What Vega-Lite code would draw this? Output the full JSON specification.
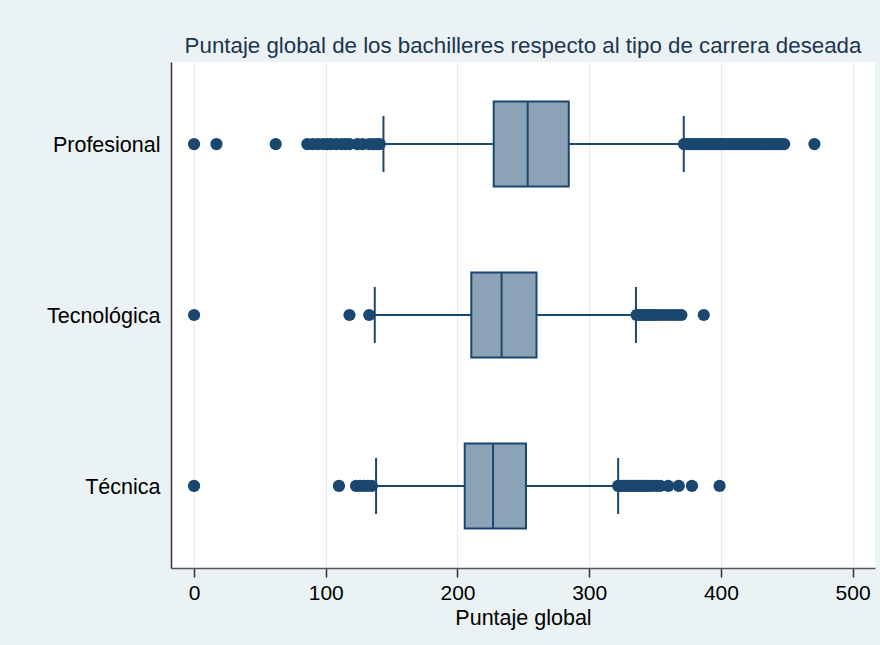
{
  "$schema": "https://vega.github.io/schema/vega-lite/v6.json",
  "width": 704,
  "height": 506,
  "autosize": {"type": "none"},
  "padding": {"left": 171, "top": 62, "right": 5, "bottom": 77},
  "title": {
    "text": "Puntaje global de los bachilleres respecto al tipo de carrera deseada",
    "fontSize": 22.3,
    "fontWeight": "normal",
    "color": "#1c3550",
    "anchor": "middle",
    "baseline": "alphabetic",
    "offset": -13
  },
  "datasets": {
    "boxes": [
      {"carrera": "Profesional", "min": 143.8, "q1": 227.5, "median": 253.3, "q3": 284.5, "max": 371.8},
      {"carrera": "Tecnológica", "min": 137.2, "q1": 210.5, "median": 233.5, "q3": 260, "max": 335.5},
      {"carrera": "Técnica", "min": 138.2, "q1": 205.5, "median": 227, "q3": 252, "max": 322}
    ],
    "outliers": [
      {"carrera": "Profesional", "puntaje": 0},
      {"carrera": "Profesional", "puntaje": 17},
      {"carrera": "Profesional", "puntaje": 62},
      {"carrera": "Profesional", "puntaje": 86},
      {"carrera": "Profesional", "puntaje": 90},
      {"carrera": "Profesional", "puntaje": 94},
      {"carrera": "Profesional", "puntaje": 98},
      {"carrera": "Profesional", "puntaje": 101},
      {"carrera": "Profesional", "puntaje": 104},
      {"carrera": "Profesional", "puntaje": 108},
      {"carrera": "Profesional", "puntaje": 112},
      {"carrera": "Profesional", "puntaje": 115},
      {"carrera": "Profesional", "puntaje": 118},
      {"carrera": "Profesional", "puntaje": 124},
      {"carrera": "Profesional", "puntaje": 128},
      {"carrera": "Profesional", "puntaje": 133},
      {"carrera": "Profesional", "puntaje": 136},
      {"carrera": "Profesional", "puntaje": 139},
      {"carrera": "Profesional", "puntaje": 141},
      {"carrera": "Profesional", "puntaje": 372},
      {"carrera": "Profesional", "puntaje": 374},
      {"carrera": "Profesional", "puntaje": 376},
      {"carrera": "Profesional", "puntaje": 378},
      {"carrera": "Profesional", "puntaje": 380},
      {"carrera": "Profesional", "puntaje": 382},
      {"carrera": "Profesional", "puntaje": 384},
      {"carrera": "Profesional", "puntaje": 386},
      {"carrera": "Profesional", "puntaje": 388},
      {"carrera": "Profesional", "puntaje": 390},
      {"carrera": "Profesional", "puntaje": 392},
      {"carrera": "Profesional", "puntaje": 394},
      {"carrera": "Profesional", "puntaje": 396},
      {"carrera": "Profesional", "puntaje": 398},
      {"carrera": "Profesional", "puntaje": 400},
      {"carrera": "Profesional", "puntaje": 402},
      {"carrera": "Profesional", "puntaje": 404},
      {"carrera": "Profesional", "puntaje": 406},
      {"carrera": "Profesional", "puntaje": 408},
      {"carrera": "Profesional", "puntaje": 410},
      {"carrera": "Profesional", "puntaje": 412},
      {"carrera": "Profesional", "puntaje": 414},
      {"carrera": "Profesional", "puntaje": 416},
      {"carrera": "Profesional", "puntaje": 418},
      {"carrera": "Profesional", "puntaje": 420},
      {"carrera": "Profesional", "puntaje": 422},
      {"carrera": "Profesional", "puntaje": 424},
      {"carrera": "Profesional", "puntaje": 426},
      {"carrera": "Profesional", "puntaje": 428},
      {"carrera": "Profesional", "puntaje": 430},
      {"carrera": "Profesional", "puntaje": 432},
      {"carrera": "Profesional", "puntaje": 434},
      {"carrera": "Profesional", "puntaje": 436},
      {"carrera": "Profesional", "puntaje": 438},
      {"carrera": "Profesional", "puntaje": 440},
      {"carrera": "Profesional", "puntaje": 442},
      {"carrera": "Profesional", "puntaje": 444},
      {"carrera": "Profesional", "puntaje": 446},
      {"carrera": "Profesional", "puntaje": 448},
      {"carrera": "Profesional", "puntaje": 471},
      {"carrera": "Tecnológica", "puntaje": 0},
      {"carrera": "Tecnológica", "puntaje": 118},
      {"carrera": "Tecnológica", "puntaje": 133},
      {"carrera": "Tecnológica", "puntaje": 336},
      {"carrera": "Tecnológica", "puntaje": 338},
      {"carrera": "Tecnológica", "puntaje": 340},
      {"carrera": "Tecnológica", "puntaje": 342},
      {"carrera": "Tecnológica", "puntaje": 344},
      {"carrera": "Tecnológica", "puntaje": 346},
      {"carrera": "Tecnológica", "puntaje": 348},
      {"carrera": "Tecnológica", "puntaje": 350},
      {"carrera": "Tecnológica", "puntaje": 352},
      {"carrera": "Tecnológica", "puntaje": 355},
      {"carrera": "Tecnológica", "puntaje": 358},
      {"carrera": "Tecnológica", "puntaje": 361},
      {"carrera": "Tecnológica", "puntaje": 364},
      {"carrera": "Tecnológica", "puntaje": 367},
      {"carrera": "Tecnológica", "puntaje": 370},
      {"carrera": "Tecnológica", "puntaje": 387},
      {"carrera": "Técnica", "puntaje": 0},
      {"carrera": "Técnica", "puntaje": 110},
      {"carrera": "Técnica", "puntaje": 123},
      {"carrera": "Técnica", "puntaje": 126},
      {"carrera": "Técnica", "puntaje": 129},
      {"carrera": "Técnica", "puntaje": 132},
      {"carrera": "Técnica", "puntaje": 135},
      {"carrera": "Técnica", "puntaje": 322},
      {"carrera": "Técnica", "puntaje": 324},
      {"carrera": "Técnica", "puntaje": 326},
      {"carrera": "Técnica", "puntaje": 328},
      {"carrera": "Técnica", "puntaje": 330},
      {"carrera": "Técnica", "puntaje": 332},
      {"carrera": "Técnica", "puntaje": 334},
      {"carrera": "Técnica", "puntaje": 336},
      {"carrera": "Técnica", "puntaje": 338},
      {"carrera": "Técnica", "puntaje": 340},
      {"carrera": "Técnica", "puntaje": 342},
      {"carrera": "Técnica", "puntaje": 344},
      {"carrera": "Técnica", "puntaje": 346},
      {"carrera": "Técnica", "puntaje": 348},
      {"carrera": "Técnica", "puntaje": 351},
      {"carrera": "Técnica", "puntaje": 354},
      {"carrera": "Técnica", "puntaje": 360},
      {"carrera": "Técnica", "puntaje": 368},
      {"carrera": "Técnica", "puntaje": 378},
      {"carrera": "Técnica", "puntaje": 399}
    ]
  },
  "encoding": {
    "y": {
      "field": "carrera",
      "type": "nominal",
      "sort": ["Profesional", "Tecnológica", "Técnica"],
      "scale": {"type": "point", "padding": 0.48},
      "axis": {
        "title": null,
        "ticks": false,
        "grid": false,
        "domain": true,
        "domainColor": "#333333",
        "domainWidth": 1.5,
        "labelFontSize": 21.5,
        "labelColor": "#000000",
        "labelPadding": 11,
        "labelOffset": 1.5
      }
    }
  },
  "layer": [
    {
      "data": {"name": "boxes"},
      "mark": {"type": "rule", "color": "#1a476f", "strokeWidth": 2},
      "encoding": {
        "x": {
          "field": "min",
          "type": "quantitative",
          "title": "Puntaje global",
          "scale": {"domain": [-17.5, 517], "nice": false, "zero": false},
          "axis": {
            "values": [0, 100, 200, 300, 400, 500],
            "grid": true,
            "gridColor": "#e3ecef",
            "gridWidth": 1,
            "domainColor": "#555555",
            "domainWidth": 1.5,
            "tickColor": "#333333",
            "tickSize": 9,
            "tickWidth": 1.5,
            "labelFontSize": 21,
            "labelColor": "#000000",
            "labelPadding": 5,
            "titleFontSize": 21.5,
            "titleFontWeight": "normal",
            "titleColor": "#000000",
            "titlePadding": 4
          }
        },
        "x2": {"field": "q1"}
      }
    },
    {
      "data": {"name": "boxes"},
      "mark": {"type": "rule", "color": "#1a476f", "strokeWidth": 2},
      "encoding": {
        "x": {"field": "q3", "type": "quantitative", "title": "Puntaje global"},
        "x2": {"field": "max"}
      }
    },
    {
      "data": {"name": "boxes"},
      "mark": {"type": "bar", "height": 85, "fill": "#8ca3b7", "stroke": "#1a476f", "strokeWidth": 2},
      "encoding": {
        "x": {"field": "q1", "type": "quantitative", "title": "Puntaje global"},
        "x2": {"field": "q3"}
      }
    },
    {
      "data": {"name": "boxes"},
      "mark": {"type": "tick", "orient": "vertical", "size": 85, "thickness": 2, "color": "#1a476f", "opacity": 1},
      "encoding": {
        "x": {"field": "median", "type": "quantitative", "title": "Puntaje global"}
      }
    },
    {
      "data": {"name": "boxes"},
      "mark": {"type": "tick", "orient": "vertical", "size": 56, "thickness": 2, "color": "#1a476f", "opacity": 1},
      "encoding": {
        "x": {"field": "min", "type": "quantitative", "title": "Puntaje global"}
      }
    },
    {
      "data": {"name": "boxes"},
      "mark": {"type": "tick", "orient": "vertical", "size": 56, "thickness": 2, "color": "#1a476f", "opacity": 1},
      "encoding": {
        "x": {"field": "max", "type": "quantitative", "title": "Puntaje global"}
      }
    },
    {
      "data": {"name": "outliers"},
      "mark": {"type": "circle", "size": 150, "color": "#1a476f", "opacity": 1},
      "encoding": {
        "x": {"field": "puntaje", "type": "quantitative", "title": "Puntaje global"}
      }
    }
  ],
  "config": {
    "background": "#eaf2f3",
    "font": "Liberation Sans",
    "view": {"fill": "#ffffff", "stroke": null}
  }
}
